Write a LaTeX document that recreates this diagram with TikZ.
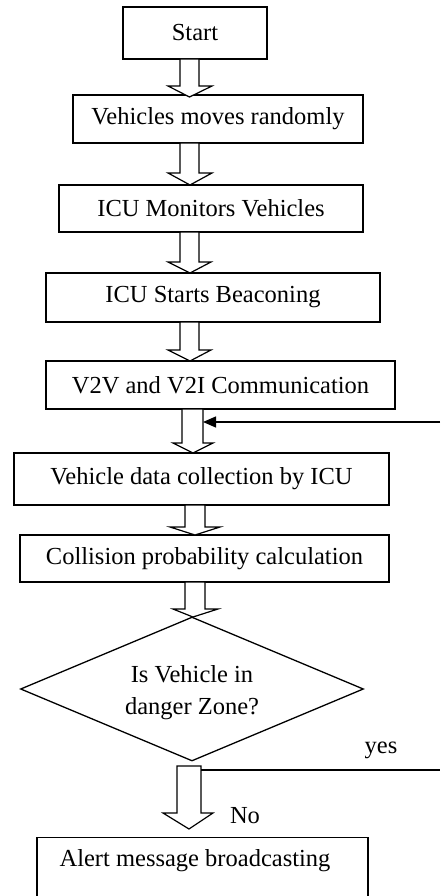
\documentclass[tikz,border=0pt]{standalone}
\usepackage{fontspec}
\setmainfont{Liberation Serif}
\usetikzlibrary{shapes.geometric,arrows.meta}
\newcommand\blkarrow[8]{% shaftL shaftR top base wingL wingR tipx tipy
  \draw[barrow] (#1,#3) -- (#2,#3) -- (#2,#4) -- (#6,#4) -- (#7,#8) -- (#5,#4) -- (#1,#4) -- cycle;}
\begin{document}
\begin{tikzpicture}[x=1pt,y=-1pt,
  box/.style={draw,line width=1.3pt,rectangle,inner sep=0pt,font=\fontsize{24.5}{30}\selectfont},
  lbl/.style={inner sep=0pt,font=\fontsize{24.5}{30}\selectfont},
  barrow/.style={draw,line width=1.2pt,fill=white,line join=miter},
  conn/.style={draw,line width=1.2pt}]
\useasboundingbox (0,0) rectangle (440,896);
\clip (0,0) rectangle (440,896);
% boxes
\node[box,minimum width=144pt,minimum height=52pt] (start) at (195,33) {Start};
\node[box,minimum width=290pt,minimum height=48pt] (move) at (218,119) {Vehicles moves randomly};
\node[box,minimum width=304pt,minimum height=47pt] (mon) at (211,208.5) {ICU Monitors Vehicles};
\node[box,minimum width=334pt,minimum height=49pt] (beac) at (213,297.5) {ICU Starts Beaconing};
\node[box,minimum width=349pt,minimum height=48pt] (comm) at (220.5,385) {V2V and V2I Communication};
\node[box,minimum width=375pt,minimum height=52pt] (coll) at (201.5,479) {Vehicle data collection by ICU};
\node[box,minimum width=369pt,minimum height=47pt] (calc) at (204.5,558.5) {Collision probability calculation};
\node[draw,line width=1.3pt,diamond,minimum width=343pt,minimum height=144pt,inner sep=0pt] (dec) at (192,689) {};
\node[lbl,align=center,font=\fontsize{24.5}{32}\selectfont] (dectext) at (192,693) {Is Vehicle in\\danger Zone?};
\node[box,minimum width=331pt,minimum height=80pt,anchor=north] (alert) at (202.5,837) {};
\node[lbl] (alerttext) at (195,861) {Alert message broadcasting};
% block arrows
\blkarrow{180}{199}{59}{86}{168}{212}{189.5}{97}
\blkarrow{180}{199}{143}{173}{168}{212}{190}{185}
\blkarrow{180}{199}{232}{262}{168}{211}{190}{273}
\blkarrow{180}{199}{322}{350}{168}{211}{190}{361}
\blkarrow{182}{203}{409}{443}{173}{213}{193}{453}
\blkarrow{185}{205}{505}{527}{170}{220}{195}{535}
\blkarrow{185}{205}{582}{609}{173}{218}{193}{617}
\blkarrow{177}{201}{766}{813}{163}{213}{189}{829}
% feedback connectors
\coordinate (fbin) at (440,422);
\coordinate (fbtip) at (203,422);
\draw[conn,-{Triangle[length=13pt,width=11pt]}] (fbin) -- (fbtip);
\coordinate (yesL) at (201,770);
\coordinate (yesR) at (440,770);
\draw[conn] (yesL) -- (yesR);
\node[lbl] (yes) at (381,750) {yes};
\node[lbl] (no) at (245,816) {No};
\end{tikzpicture}
\end{document}
